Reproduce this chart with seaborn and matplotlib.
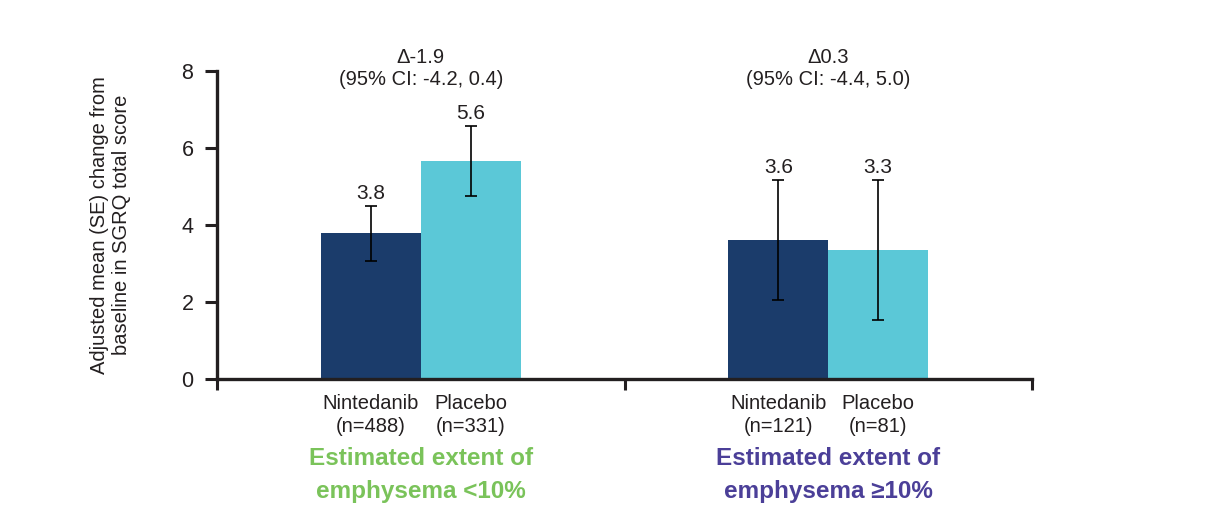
import matplotlib
matplotlib.use("Agg")
import matplotlib.pyplot as plt
import matplotlib.transforms as mtransforms
from matplotlib.container import BarContainer
import seaborn as sns
import pandas as pd
import numpy as np

# ---- data ----
groups = ["Estimated extent of\nemphysema <10%", "Estimated extent of\nemphysema \u226510%"]
treatments = ["Nintedanib", "Placebo"]
nint_values = [3.78, 3.62]
plac_values = [5.66, 3.35]
nint_se = [0.72, 1.56]
plac_se = [0.91, 1.82]
nint_labels = ["3.8", "3.6"]
plac_labels = ["5.6", "3.3"]
nint_n = ["(n=488)", "(n=121)"]
plac_n = ["(n=331)", "(n=81)"]
delta_text = ["\u0394-1.9", "\u03940.3"]
ci_text = ["(95% CI: -4.2, 0.4)", "(95% CI: -4.4, 5.0)"]
y_ticks = [0, 2, 4, 6, 8]
y_label = "Adjusted mean (SE) change from\nbaseline in SGRQ total score"

group_colors = ["#7AC35A", "#4B3F98"]
bar_colors = ["#1B3C6B", "#5BC8D7"]
dark = "#231F20"

df = pd.DataFrame({
    "group": [groups[0], groups[0], groups[1], groups[1]],
    "treatment": [treatments[0], treatments[1], treatments[0], treatments[1]],
    "value": [nint_values[0], plac_values[0], nint_values[1], plac_values[1]],
})
se_map = {(groups[i], treatments[0]): nint_se[i] for i in range(2)}
se_map.update({(groups[i], treatments[1]): plac_se[i] for i in range(2)})
lab_map = {(groups[i], treatments[0]): nint_labels[i] for i in range(2)}
lab_map.update({(groups[i], treatments[1]): plac_labels[i] for i in range(2)})
n_map = {(groups[i], treatments[0]): nint_n[i] for i in range(2)}
n_map.update({(groups[i], treatments[1]): plac_n[i] for i in range(2)})

sns.set_theme(style="white")
plt.rcParams["font.family"] = ["Liberation Sans", "DejaVu Sans"]

fig = plt.figure(figsize=(12.08, 5.19), dpi=100)
ax = fig.add_axes([217/1208, 1 - 379/519, (1032 - 217)/1208, (379 - 71)/519])

sns.barplot(data=df, x="group", y="value", hue="treatment", order=groups,
            hue_order=treatments, palette=bar_colors, width=0.49, dodge=True,
            errorbar=None, saturation=1, linewidth=0, ax=ax, legend=False)

# error bars and labels using patch geometry
trans_lab = mtransforms.blended_transform_factory(ax.transData, ax.transAxes)
bar_conts = [c for c in ax.containers if isinstance(c, BarContainer)]
for ti, cont in enumerate(bar_conts):
    for gi, patch in enumerate(cont.patches):
        key = (groups[gi], treatments[ti])
        xc = patch.get_x() + patch.get_width() / 2
        h = patch.get_height()
        se = se_map[key]
        ax.errorbar(xc, h, yerr=se, fmt="none", ecolor="black", elinewidth=1.2,
                     capsize=4, capthick=1.2, zorder=5)
        ax.annotate(lab_map[key], (xc, h + se), xytext=(0, 2), textcoords="offset points",
                    ha="center", va="bottom", fontsize=15, color=dark)
        ax.text(xc, -0.05, treatments[ti] + "\n" + n_map[key], transform=trans_lab,
                ha="center", va="top", fontsize=14.5, color=dark, linespacing=1.25)

for gi in range(2):
    ax.text(gi, 8.36, delta_text[gi], ha="center", va="center", fontsize=14.5,
            color=dark, clip_on=False)
    ax.text(gi, 7.78, ci_text[gi], ha="center", va="center", fontsize=14.5,
            color=dark, clip_on=False)
    ax.text(gi, -0.222, groups[gi], transform=trans_lab, ha="center", va="top",
            fontsize=17.5, fontweight="bold", color=group_colors[gi], linespacing=1.55)

ax.set_xlim(-0.5, 1.5)
ax.set_ylim(0, 8)
ax.set_yticks(y_ticks)
ax.set_yticklabels([str(t) for t in y_ticks], fontsize=15.5, color=dark)
ax.set_xticks([-0.5, 0.5, 1.5])
ax.set_xticklabels(["", "", ""])
ax.tick_params(axis="y", direction="out", length=9, width=2.2, color=dark, pad=8, left=True)
ax.tick_params(axis="x", direction="out", length=8, width=2.2, color=dark, bottom=True)
ax.set_xlabel("")
ax.set_ylabel(y_label, fontsize=14.5, color=dark, labelpad=36, linespacing=1.25)

for s in ["top", "right"]:
    ax.spines[s].set_visible(False)
for s in ["left", "bottom"]:
    ax.spines[s].set_linewidth(2.4)
    ax.spines[s].set_color(dark)
ax.grid(False)

fig.savefig("out.png", dpi=100)
